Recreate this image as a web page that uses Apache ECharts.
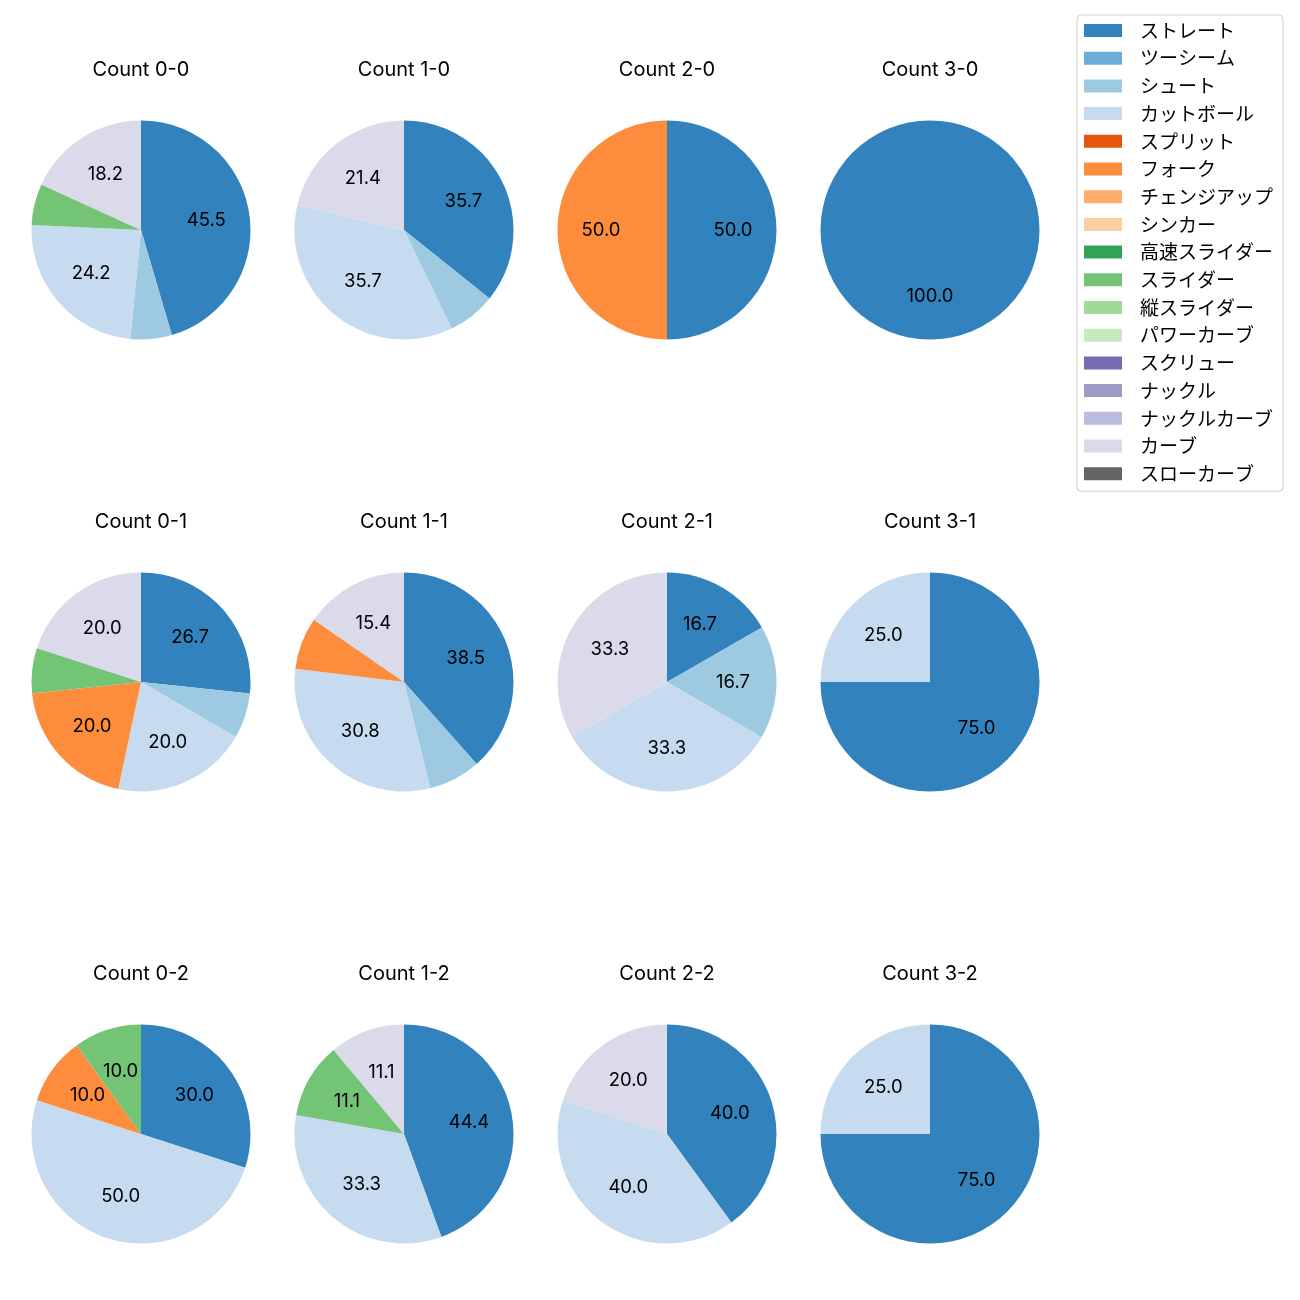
<!DOCTYPE html>
<html>
<head>
<meta charset="utf-8">
<script src="https://cdn.jsdelivr.net/npm/echarts@6/dist/echarts.min.js"></script>
<style>html,body{margin:0;padding:0;background:#fff}#c{width:1300px;height:1300px}</style>
</head>
<body>
<div id="c"></div>
<script>
const pitchTypes = ['ストレート','ツーシーム','シュート','カットボール','スプリット','フォーク','チェンジアップ','シンカー','高速スライダー','スライダー','縦スライダー','パワーカーブ','スクリュー','ナックル','ナックルカーブ','カーブ','スローカーブ'];
const pitchColors = ['#3182bd','#6baed6','#9ecae1','#c6dbef','#e6550d','#fd8d3c','#fdae6b','#fdd0a2','#31a354','#74c476','#a1d99b','#c7e9c0','#756bb1','#9e9ac8','#bcbddc','#dadaeb','#636363'];
const countLabels = ['0-0','1-0','2-0','3-0','0-1','1-1','2-1','3-1','0-2','1-2','2-2','3-2'];

const count00 = [45.5,0,6.1,24.2,0,0,0,0,0,6.1,0,0,0,0,0,18.2,0];
const count10 = [35.7,0,7.1,35.7,0,0,0,0,0,0,0,0,0,0,0,21.4,0];
const count20 = [50.0,0,0,0,0,50.0,0,0,0,0,0,0,0,0,0,0,0];
const count30 = [100.0,0,0,0,0,0,0,0,0,0,0,0,0,0,0,0,0];
const count01 = [26.7,0,6.7,20.0,0,20.0,0,0,0,6.7,0,0,0,0,0,20.0,0];
const count11 = [38.5,0,7.7,30.8,0,7.7,0,0,0,0,0,0,0,0,0,15.4,0];
const count21 = [16.7,0,16.7,33.3,0,0,0,0,0,0,0,0,0,0,0,33.3,0];
const count31 = [75.0,0,0,25.0,0,0,0,0,0,0,0,0,0,0,0,0,0];
const count02 = [30.0,0,0,50.0,0,10.0,0,0,0,10.0,0,0,0,0,0,0,0];
const count12 = [44.4,0,0,33.3,0,0,0,0,0,11.1,0,0,0,0,0,11.1,0];
const count22 = [40.0,0,0,40.0,0,0,0,0,0,0,0,0,0,0,0,20.0,0];
const count32 = [75.0,0,0,25.0,0,0,0,0,0,0,0,0,0,0,0,0,0];

const allCounts = [count00,count10,count20,count30,count01,count11,count21,count31,count02,count12,count22,count32];

const LATIN = 'Inter, "Noto Sans CJK JP", sans-serif';
const CJK = '"Noto Sans CJK JP", "Noto Sans", sans-serif';
const colX = [141, 404, 667, 930];
const rowY = [230, 682, 1134];
const R = 109.5;

const titles = [];
const series = [];
const labelSeries = [];
allCounts.forEach((vals, i) => {
  const cx = colX[i % 4], cy = rowY[Math.floor(i / 4)];
  titles.push({
    text: 'Count ' + countLabels[i],
    left: cx, top: cy - 160,
    textAlign: 'center', textVerticalAlign: 'middle',
    padding: 0,
    textStyle: {fontFamily: LATIN, fontSize: 20, fontWeight: 'normal', color: '#000'}
  });
  const data = pitchTypes.map((n, k) => ({name: n, value: vals[k], itemStyle: {color: pitchColors[k]}}));
  series.push({
    type: 'pie', center: [cx, cy], radius: [0, R],
    startAngle: 90, clockwise: true, padAngle: 0, minAngle: 0,
    silent: true, animation: false,
    itemStyle: {borderWidth: 0},
    label: {show: false}, labelLine: {show: false},
    emphasis: {disabled: true},
    data: data
  });
  labelSeries.push({
    type: 'pie', center: [cx, cy], radius: [0, R * 1.15],
    startAngle: 90, clockwise: true, padAngle: 0, minAngle: 0,
    silent: true, animation: false,
    itemStyle: {color: 'rgba(0,0,0,0)', borderWidth: 0},
    label: {
      show: true, position: 'inside',
      fontFamily: LATIN, fontSize: 18.5, color: '#000',
      formatter: p => (p.value >= 10 ? p.value.toFixed(1) : '')
    },
    labelLine: {show: false},
    emphasis: {disabled: true},
    data: pitchTypes.map((n, k) => ({name: n, value: vals[k]}))
  });
});

const chart = echarts.init(document.getElementById('c'), null, {renderer: 'canvas'});
chart.setOption({
  animation: false,
  backgroundColor: '#fff',
  title: titles,
  legend: {
    orient: 'vertical', left: 1077, top: 15,
    padding: [6, 10, 8, 7],
    itemWidth: 38, itemHeight: 13, itemGap: 8.7,
    icon: 'rect',
    selectedMode: false,
    backgroundColor: '#fff', borderColor: '#d0d0d0', borderWidth: 1, borderRadius: 4,
    textStyle: {fontFamily: CJK, fontSize: 19, color: '#000', padding: [0, 0, 0, 13]},
    data: pitchTypes
  },
  series: series.concat(labelSeries)
});
</script>
</body>
</html>
